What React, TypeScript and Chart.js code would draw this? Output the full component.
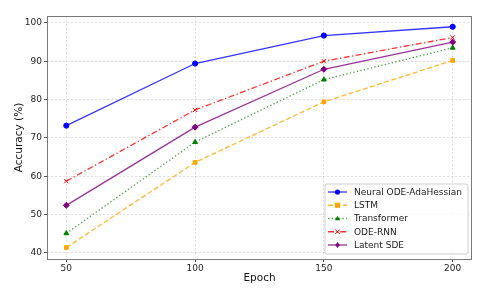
import React, { useEffect, useRef } from "react";
import { Chart, registerables } from "chart.js";

Chart.register(...registerables);

const epochs = [50, 100, 150, 200];
const neuralOde = [73.2, 89.4, 96.7, 99.0];
const lstm = [41.4, 63.6, 79.4, 90.2];
const transformer = [45.1, 68.9, 85.2, 93.5];
const odeRnn = [58.7, 77.3, 90.0, 96.2];
const latentSde = [52.4, 72.8, 87.9, 95.0];
const xTicks = [50, 100, 150, 200];
const yTicks = [40, 50, 60, 70, 80, 90, 100];

const FONT = "'DejaVu Sans', sans-serif";

type SeriesDef = {
  label: string;
  data: number[];
  color: string;
  lineColor: string;
  dash: number[];
  style: string;
  radius: number;
};

const series: SeriesDef[] = [
  { label: "Neural ODE-AdaHessian", data: neuralOde, color: "#0000ff", lineColor: "rgba(0,0,255,0.8)", dash: [], style: "circle", radius: 2.6 },
  { label: "LSTM", data: lstm, color: "#ffa500", lineColor: "rgba(255,165,0,0.8)", dash: [5, 2.5], style: "rect", radius: 2.6 },
  { label: "Transformer", data: transformer, color: "#008000", lineColor: "rgba(0,128,0,0.7)", dash: [1.4, 2.2], style: "triangle", radius: 2.8 },
  { label: "ODE-RNN", data: odeRnn, color: "#ff0000", lineColor: "rgba(255,0,0,0.8)", dash: [6, 2.4, 1.4, 2.4], style: "crossRot", radius: 3 },
  { label: "Latent SDE", data: latentSde, color: "#800080", lineColor: "rgba(128,0,128,0.8)", dash: [], style: "rectRot", radius: 3 },
];

function drawMarker(ctx: CanvasRenderingContext2D, style: string, r: number, x: number, y: number, color: string) {
  ctx.save();
  ctx.setLineDash([]);
  ctx.fillStyle = color;
  ctx.strokeStyle = color;
  ctx.lineWidth = 1;
  ctx.beginPath();
  if (style === "circle") {
    ctx.arc(x, y, r, 0, Math.PI * 2);
    ctx.fill();
  } else if (style === "rect") {
    const s = r / Math.SQRT2 * 1.41;
    ctx.rect(x - s, y - s, 2 * s, 2 * s);
    ctx.fill();
  } else if (style === "triangle") {
    ctx.moveTo(x, y - r);
    ctx.lineTo(x + r * 0.95, y + r * 0.6);
    ctx.lineTo(x - r * 0.95, y + r * 0.6);
    ctx.closePath();
    ctx.fill();
  } else if (style === "crossRot") {
    const d = r * 0.75;
    ctx.moveTo(x - d, y - d);
    ctx.lineTo(x + d, y + d);
    ctx.moveTo(x + d, y - d);
    ctx.lineTo(x - d, y + d);
    ctx.stroke();
  } else if (style === "rectRot") {
    ctx.moveTo(x, y - r);
    ctx.lineTo(x + r * 0.75, y);
    ctx.lineTo(x, y + r);
    ctx.lineTo(x - r * 0.75, y);
    ctx.closePath();
    ctx.fill();
  }
  ctx.restore();
}

const framePlugin = {
  id: "frameAndLegend",
  afterDraw(chart: any) {
    const { ctx, chartArea } = chart;
    ctx.save();
    ctx.strokeStyle = "#7a7a7a";
    ctx.lineWidth = 1;
    ctx.setLineDash([]);
    ctx.strokeRect(chartArea.left + 0.5, chartArea.top + 0.5, chartArea.right - chartArea.left - 1, chartArea.bottom - chartArea.top);

    // legend
    const bx = 325, by = 184, bw = 143, bh = 70;
    ctx.fillStyle = "rgba(255,255,255,0.85)";
    ctx.strokeStyle = "#d0d0d0";
    ctx.beginPath();
    const r = 2;
    ctx.moveTo(bx + r, by);
    ctx.lineTo(bx + bw - r, by);
    ctx.quadraticCurveTo(bx + bw, by, bx + bw, by + r);
    ctx.lineTo(bx + bw, by + bh - r);
    ctx.quadraticCurveTo(bx + bw, by + bh, bx + bw - r, by + bh);
    ctx.lineTo(bx + r, by + bh);
    ctx.quadraticCurveTo(bx, by + bh, bx, by + bh - r);
    ctx.lineTo(bx, by + r);
    ctx.quadraticCurveTo(bx, by, bx + r, by);
    ctx.closePath();
    ctx.fill();
    ctx.stroke();

    chart.data.datasets.forEach((ds: any, i: number) => {
      const s = series[i];
      const y = 192 + i * 13.25;
      ctx.save();
      ctx.strokeStyle = s.lineColor;
      ctx.lineWidth = 1.3;
      ctx.setLineDash(s.dash);
      ctx.beginPath();
      ctx.moveTo(328, y);
      ctx.lineTo(347, y);
      ctx.stroke();
      ctx.restore();
      drawMarker(ctx, s.style, s.radius, 337.5, y, s.color);
      ctx.fillStyle = "#1a1a1a";
      ctx.font = `9px ${FONT}`;
      ctx.textBaseline = "middle";
      ctx.textAlign = "left";
      ctx.fillText(ds.label, 354, y + 0.5);
    });
    ctx.restore();
  },
};

export default function App() {
  const ref = useRef<HTMLCanvasElement | null>(null);
  useEffect(() => {
    document.body.style.margin = "0";
    if (!ref.current) return;
    const gridCommon: any = {
      color: "rgba(180,180,180,0.4)",
      tickColor: "#555",
      tickBorderDash: [],
      tickLength: 3,
      drawTicks: true,
    };
    const chart = new Chart(ref.current, {
      type: "line",
      data: {
        datasets: series.map((s) => ({
          label: s.label,
          data: s.data.map((v, i) => ({ x: epochs[i], y: v })),
          borderColor: s.lineColor,
          backgroundColor: s.color,
          pointBackgroundColor: s.color,
          pointBorderColor: s.color,
          pointBorderWidth: 1,
          borderWidth: 1.3,
          borderDash: s.dash,
          pointStyle: s.style as any,
          pointRadius: s.radius,
          tension: 0,
          fill: false,
        })),
      },
      options: {
        responsive: false,
        animation: false,
        events: [],
        layout: { padding: { top: 16, right: 21, left: 0, bottom: 0 } },
        plugins: { legend: { display: false }, tooltip: { enabled: false } },
        scales: {
          x: {
            type: "linear",
            min: 42.5,
            max: 207.5,
            afterBuildTicks: (scale: any) => {
              scale.ticks = xTicks.map((v) => ({ value: v }));
            },
            afterFit: (scale: any) => {
              scale.height = 35;
            },
            grid: gridCommon,
            border: { display: false, dash: [2.5, 1.5] } as any,
            ticks: {
              color: "#222",
              padding: 1.5,
              maxRotation: 0,
              font: { family: FONT, size: 9 },
              callback: (v: any) => String(v),
            },
            title: {
              display: true,
              text: "Epoch",
              color: "#111",
              font: { family: FONT, size: 10.5, lineHeight: 1 },
              padding: { top: 0, bottom: 10.5 },
            },
          },
          y: {
            type: "linear",
            min: 38.4,
            max: 101.8,
            afterBuildTicks: (scale: any) => {
              scale.ticks = yTicks.map((v) => ({ value: v }));
            },
            afterFit: (scale: any) => {
              scale.width = 47;
            },
            grid: gridCommon,
            border: { display: false, dash: [2.5, 1.5] } as any,
            ticks: {
              color: "#222",
              padding: 2,
              font: { family: FONT, size: 9 },
              callback: (v: any) => String(v),
            },
            title: {
              display: true,
              text: "Accuracy (%)",
              color: "#111",
              font: { family: FONT, size: 10.5, lineHeight: 1 },
              padding: { top: 14.5, bottom: 0 },
            },
          },
        },
      },
      plugins: [framePlugin],
    });
    return () => chart.destroy();
  }, []);
  return (
    <div style={{ position: "absolute", left: 0, top: 0, width: 493, height: 294, background: "#fff" }}>
      <canvas ref={ref} width={493} height={294} />
    </div>
  );
}
